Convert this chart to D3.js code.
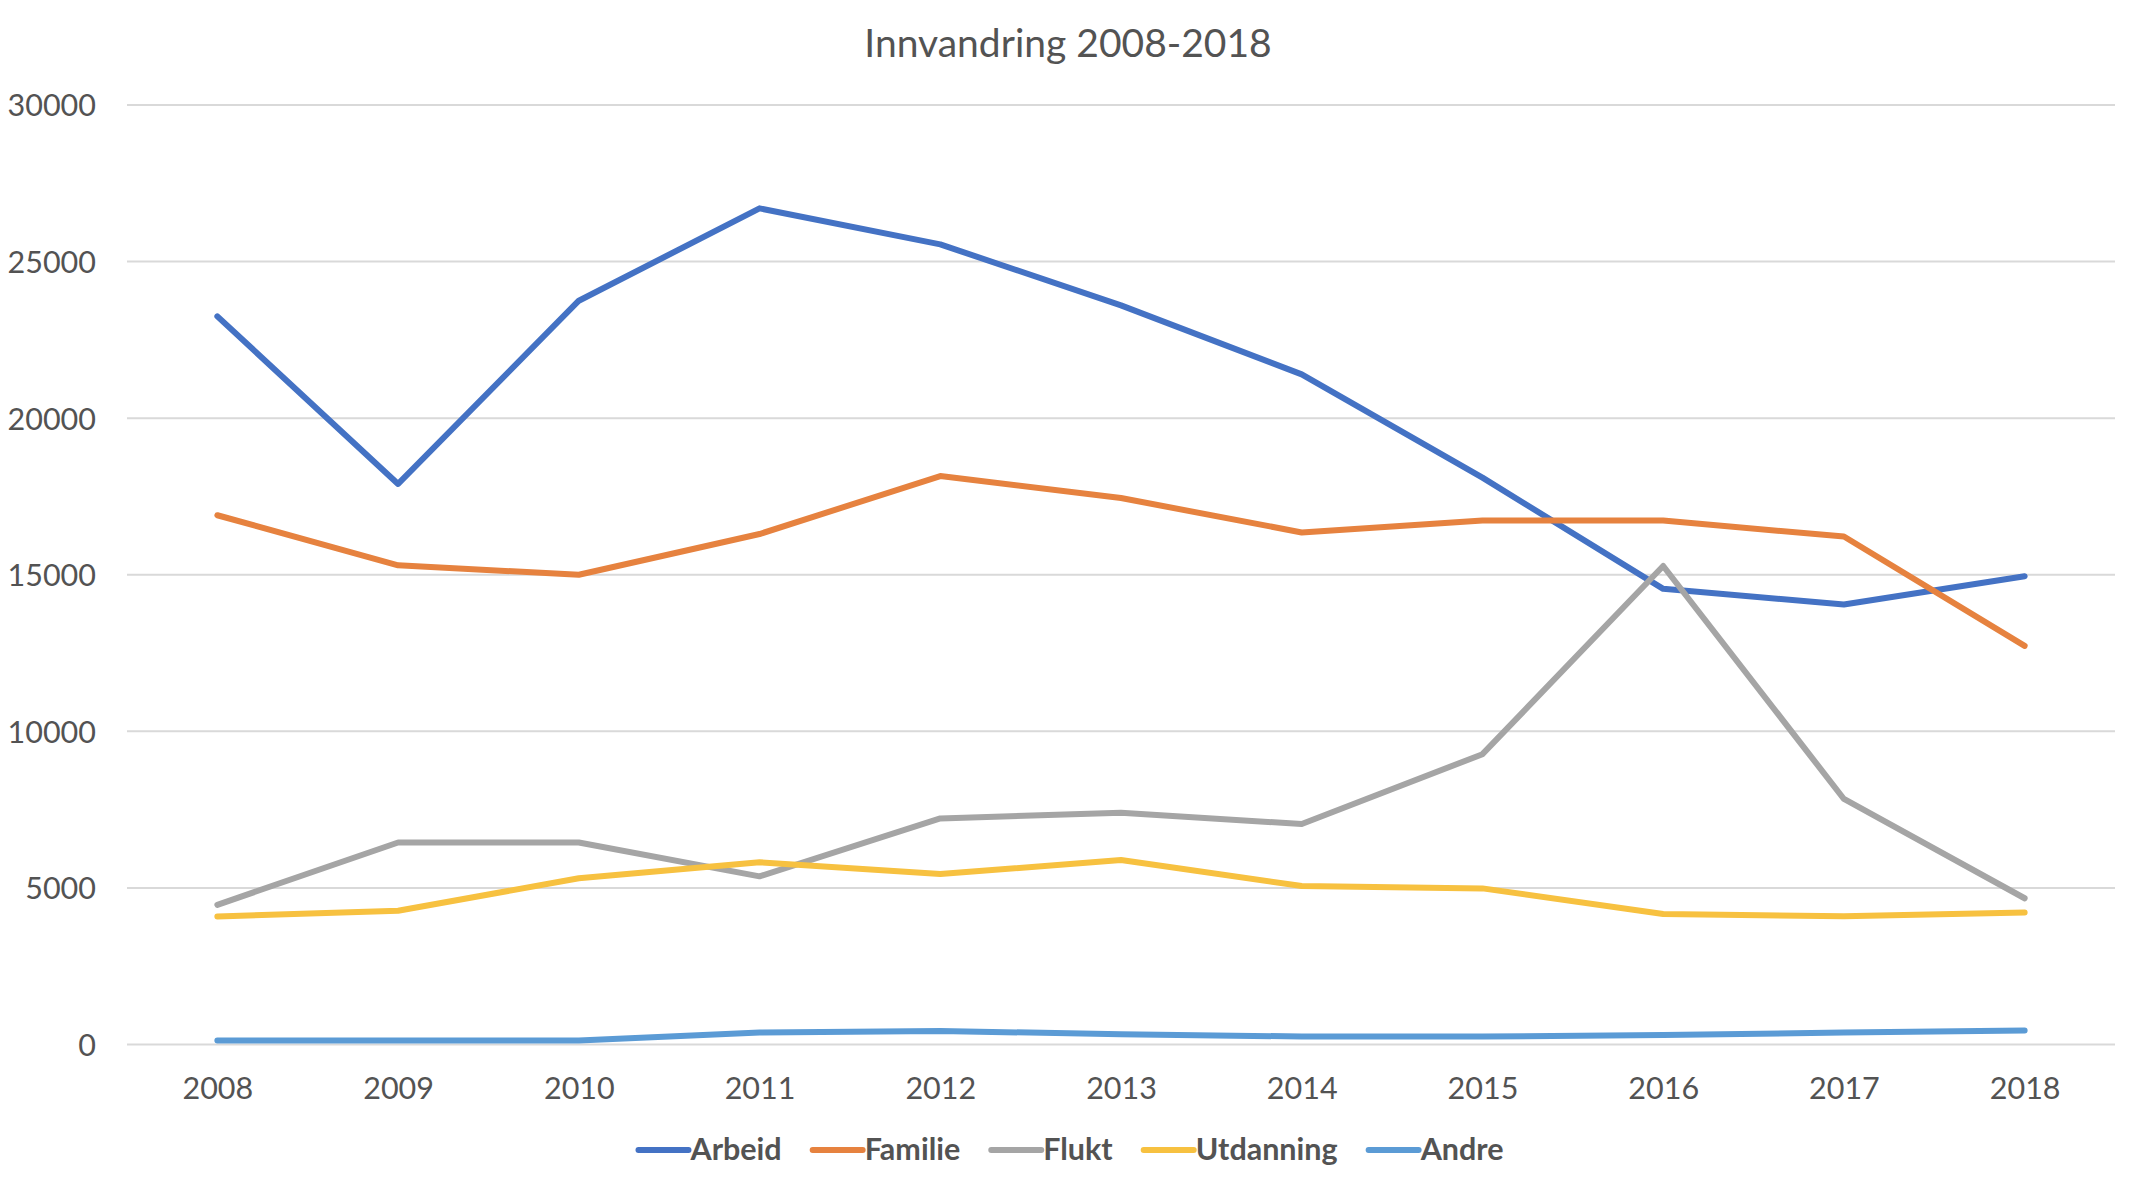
<!DOCTYPE html>
<html>
<head>
<meta charset="utf-8">
<script src="https://cdn.jsdelivr.net/npm/d3@7"></script>
<style>
    body { margin: 0; background: #fff; }
    svg { display: block; font-family: Lato, "Open Sans", sans-serif; }
</style>
</head>
<body>
<svg width="2140" height="1184"></svg>
<script>
//--------------------------DATA------------------------------------------------
var years = ["2008", "2009", "2010", "2011", "2012", "2013", "2014", "2015", "2016", "2017", "2018"];
var seriesNames = ["Arbeid", "Familie", "Flukt", "Utdanning", "Andre"];
var seriesColors = ["#4472C4", "#E6823F", "#A5A5A5", "#F7C140", "#5B9BD5"];
var arbeid    = [23250, 17900, 23750, 26700, 25550, 23600, 21400, 18100, 14550, 14050, 14950];
var familie   = [16900, 15300, 15000, 16300, 18150, 17450, 16350, 16730, 16730, 16220, 12730];
var flukt     = [4460, 6450, 6450, 5370, 7220, 7400, 7040, 9270, 15280, 7840, 4670];
var utdanning = [4090, 4270, 5310, 5820, 5445, 5890, 5060, 4985, 4165, 4095, 4215];
var andre     = [125, 125, 125, 380, 430, 330, 255, 255, 305, 380, 445];
var yTicks = [0, 5000, 10000, 15000, 20000, 25000, 30000];
var title = "Innvandring 2008-2018";

var series = [arbeid, familie, flukt, utdanning, andre].map(function(values, i) {
    return { name: seriesNames[i], color: seriesColors[i], values: values };
});

//--------------------------D3--------------------------------------------------
var svg = d3.select("svg");
var textColor = "#535353";

var plot = { left: 127, right: 2115, top: 105, bottom: 1044.5 };

var x = d3.scalePoint().domain(years).range([plot.left, plot.right]).padding(0.5);
var y = d3.scaleLinear().domain([0, 30000]).range([plot.bottom, plot.top]);

// title
svg.append("text")
    .attr("x", 1068)
    .attr("y", 57)
    .attr("text-anchor", "middle")
    .style("font-size", "39px")
    .style("fill", textColor)
    .text(title);

// gridlines
svg.append("g")
    .selectAll("line")
    .data(yTicks)
    .enter().append("line")
    .attr("x1", plot.left)
    .attr("x2", plot.right)
    .attr("y1", function(d) { return y(d); })
    .attr("y2", function(d) { return y(d); })
    .style("stroke", "#d9d9d9")
    .style("stroke-width", 2);

// y axis labels
var yAxis = d3.axisLeft(y).tickValues(yTicks).tickSize(0).tickPadding(0).tickFormat(d3.format("d"));
var yg = svg.append("g")
    .attr("transform", "translate(96,0)")
    .call(yAxis);
yg.select(".domain").remove();
yg.selectAll("text")
    .attr("dy", "0.36em")
    .style("font-family", "Lato, 'Open Sans', sans-serif")
    .style("font-size", "30.5px")
    .style("fill", textColor);

// x axis labels
var xAxis = d3.axisBottom(x).tickSize(0).tickPadding(0);
var xg = svg.append("g")
    .attr("transform", "translate(0,1099)")
    .call(xAxis);
xg.select(".domain").remove();
xg.selectAll("text")
    .attr("y", 0)
    .attr("dy", 0)
    .style("font-family", "Lato, 'Open Sans', sans-serif")
    .style("font-size", "30.5px")
    .style("fill", textColor);

// lines
var line = d3.line()
    .x(function(d, i) { return x(years[i]); })
    .y(function(d) { return y(d); });

svg.append("g")
    .selectAll("path")
    .data(series)
    .enter().append("path")
    .attr("d", function(d) { return line(d.values); })
    .style("fill", "none")
    .style("stroke", function(d) { return d.color; })
    .style("stroke-width", 6)
    .style("stroke-linejoin", "round")
    .style("stroke-linecap", "round");

// legend
var legend = svg.append("g");
var items = legend.selectAll("g")
    .data(series)
    .enter().append("g");
items.append("line")
    .attr("x1", 0)
    .attr("x2", 50)
    .attr("y1", 0)
    .attr("y2", 0)
    .style("stroke", function(d) { return d.color; })
    .style("stroke-width", 6)
    .style("stroke-linecap", "round");
items.append("text")
    .attr("x", 52)
    .attr("y", 10)
    .style("font-size", "30.5px")
    .style("font-weight", "bold")
    .style("fill", textColor)
    .text(function(d) { return d.name; });

// position legend items next to each other, centered
var offset = 0;
var gap = 31;
items.each(function() {
    var w = 52 + d3.select(this).select("text").node().getComputedTextLength();
    d3.select(this).attr("data-x", offset);
    offset += w + gap;
});
var total = offset - gap;
var startX = 1071 - total / 2;
items.attr("transform", function() {
    return "translate(" + (startX + (+d3.select(this).attr("data-x"))) + ",1150)";
});
</script>
</body>
</html>
